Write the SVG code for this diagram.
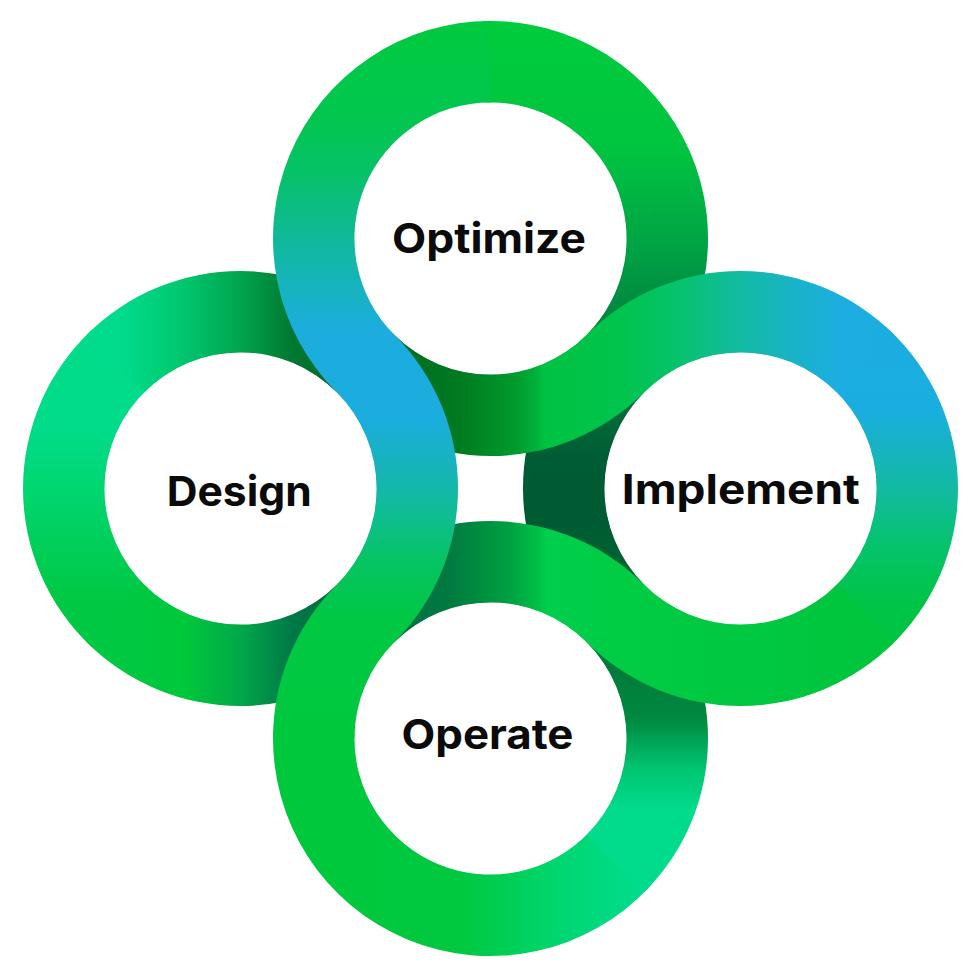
<svg xmlns="http://www.w3.org/2000/svg" width="980" height="978" viewBox="0 0 980 978">
<style>
.lbl{font-family:Inter,"Noto Sans","Liberation Sans",sans-serif;font-weight:700;font-size:41px;fill:#0a0a0a;text-anchor:middle}
.hole{fill:#ffffff}
</style>
<defs>
<linearGradient id="gTright" gradientUnits="userSpaceOnUse" x1="0" y1="21" x2="0" y2="392">
<stop offset="0" stop-color="#00cc3c"/><stop offset="0.348" stop-color="#00c440"/><stop offset="0.617" stop-color="#00a244"/><stop offset="0.833" stop-color="#007f3f"/><stop offset="1" stop-color="#00703a"/>
</linearGradient>
<linearGradient id="gDtop" gradientUnits="userSpaceOnUse" x1="120" y1="0" x2="330" y2="0">
<stop offset="0" stop-color="#00dc8c"/><stop offset="0.286" stop-color="#00c870"/><stop offset="0.571" stop-color="#00a54e"/><stop offset="0.81" stop-color="#007a32"/><stop offset="1" stop-color="#006a2a"/>
</linearGradient>
<linearGradient id="gDleft" gradientUnits="userSpaceOnUse" x1="0" y1="300" x2="0" y2="680">
<stop offset="0" stop-color="#00dc8c"/><stop offset="0.342" stop-color="#00dc88"/><stop offset="0.579" stop-color="#00d264"/><stop offset="0.79" stop-color="#00c843"/><stop offset="1" stop-color="#00c843"/>
</linearGradient>
<linearGradient id="gDbottom" gradientUnits="userSpaceOnUse" x1="100" y1="0" x2="340" y2="0">
<stop offset="0" stop-color="#00c843"/><stop offset="0.354" stop-color="#00c83c"/><stop offset="0.583" stop-color="#00a848"/><stop offset="0.792" stop-color="#007a48"/><stop offset="1" stop-color="#00663e"/>
</linearGradient>
<linearGradient id="gObottom" gradientUnits="userSpaceOnUse" x1="300" y1="0" x2="680" y2="0">
<stop offset="0" stop-color="#00c83c"/><stop offset="0.42" stop-color="#00c940"/><stop offset="0.684" stop-color="#00d670"/><stop offset="0.895" stop-color="#00dc8c"/><stop offset="1" stop-color="#00dc8c"/>
</linearGradient>
<linearGradient id="gOright" gradientUnits="userSpaceOnUse" x1="0" y1="580" x2="0" y2="900">
<stop offset="0" stop-color="#006a35"/><stop offset="0.25" stop-color="#007838"/><stop offset="0.4375" stop-color="#008a40"/><stop offset="0.594" stop-color="#00c672"/><stop offset="0.719" stop-color="#00dc8c"/><stop offset="1" stop-color="#00dc8c"/>
</linearGradient>
<linearGradient id="gIleft" gradientUnits="userSpaceOnUse" x1="0" y1="380" x2="0" y2="600">
<stop offset="0" stop-color="#00783c"/><stop offset="0.35" stop-color="#005c34"/><stop offset="0.65" stop-color="#005a32"/><stop offset="1" stop-color="#006e32"/>
</linearGradient>
<linearGradient id="gIright" gradientUnits="userSpaceOnUse" x1="0" y1="330" x2="0" y2="650">
<stop offset="0" stop-color="#1cade0"/><stop offset="0.25" stop-color="#1aaee0"/><stop offset="0.406" stop-color="#16b5b8"/><stop offset="0.531" stop-color="#10bc98"/><stop offset="0.672" stop-color="#06c36c"/><stop offset="0.844" stop-color="#00c448"/><stop offset="1" stop-color="#00c43f"/>
</linearGradient>
<linearGradient id="gH1" gradientUnits="userSpaceOnUse" x1="390" y1="0" x2="900" y2="0">
<stop offset="0" stop-color="#006a20"/><stop offset="0.137" stop-color="#007a20"/><stop offset="0.245" stop-color="#009a2c"/><stop offset="0.284" stop-color="#00b03a"/><stop offset="0.304" stop-color="#00c242"/><stop offset="0.451" stop-color="#00c44c"/><stop offset="0.569" stop-color="#06c26e"/><stop offset="0.686" stop-color="#12bba2"/><stop offset="0.804" stop-color="#19b2cc"/><stop offset="0.882" stop-color="#1caee0"/><stop offset="1" stop-color="#1cade0"/>
</linearGradient>
<linearGradient id="gH2" gradientUnits="userSpaceOnUse" x1="390" y1="0" x2="900" y2="0">
<stop offset="0" stop-color="#006e48"/><stop offset="0.118" stop-color="#007a40"/><stop offset="0.235" stop-color="#00a040"/><stop offset="0.284" stop-color="#00bd46"/><stop offset="0.31" stop-color="#00cf4c"/><stop offset="0.451" stop-color="#00cc44"/><stop offset="1" stop-color="#00c43c"/>
</linearGradient>
<linearGradient id="gV" gradientUnits="userSpaceOnUse" x1="0" y1="21" x2="0" y2="760">
<stop offset="0" stop-color="#00ca3e"/><stop offset="0.135" stop-color="#02c650"/><stop offset="0.202" stop-color="#06c266"/><stop offset="0.296" stop-color="#10b99a"/><stop offset="0.364" stop-color="#17b3c0"/><stop offset="0.42" stop-color="#1badde"/><stop offset="0.54" stop-color="#1badde"/><stop offset="0.607" stop-color="#16b4b8"/><stop offset="0.662" stop-color="#10bc98"/><stop offset="0.729" stop-color="#06c464"/><stop offset="0.81" stop-color="#00c843"/><stop offset="1" stop-color="#00c83c"/>
</linearGradient>
</defs>
<g id="rings">
<path id="implement-left" fill="url(#gIleft)" d="M 586.70 642.30 A 217.5 217.5 0 0 1 586.70 334.70 L 644.30 392.30 A 136.05 136.05 0 0 0 644.30 584.70 Z"/>
<path id="optimize-right" fill="url(#gTright)" d="M 482.91 21.13 A 217.5 217.5 0 0 1 644.30 392.30 L 586.70 334.70 A 136.05 136.05 0 0 0 485.75 102.53 Z"/>
<path id="design-left" fill="url(#gDleft)" d="M 92.17 647.57 A 217.5 217.5 0 0 1 92.17 329.43 L 147.71 389.00 A 136.05 136.05 0 0 0 147.71 588.00 Z"/>
<path id="design-top" fill="url(#gDtop)" d="M 86.70 334.70 A 217.5 217.5 0 0 1 394.30 334.70 L 336.70 392.30 A 136.05 136.05 0 0 0 144.30 392.30 Z"/>
<path id="design-bottom" fill="url(#gDbottom)" d="M 394.30 642.30 A 217.5 217.5 0 0 1 86.70 642.30 L 144.30 584.70 A 136.05 136.05 0 0 0 336.70 584.70 Z"/>
<path id="operate-bottom" fill="url(#gObottom)" d="M 649.57 886.84 A 217.5 217.5 0 0 1 273.13 730.91 L 354.53 733.75 A 136.05 136.05 0 0 0 590.00 831.29 Z"/>
<path id="operate-right" fill="url(#gOright)" d="M 644.30 584.70 A 217.5 217.5 0 0 1 644.30 892.30 L 586.70 834.70 A 136.05 136.05 0 0 0 586.70 642.30 Z"/>
<path id="implement-right" fill="url(#gIright)" d="M 888.84 329.43 A 217.5 217.5 0 0 1 888.84 647.57 L 833.29 588.00 A 136.05 136.05 0 0 0 833.29 389.00 Z"/>
<path id="band-top" fill="url(#gH1)" d="M 394.30 334.70 A 136.05 136.05 0 0 0 586.70 334.70 A 217.5 217.5 0 0 1 894.30 334.70 L 836.70 392.30 A 136.05 136.05 0 0 0 644.30 392.30 A 217.5 217.5 0 0 1 336.70 392.30 Z"/>
<path id="band-bottom" fill="url(#gH2)" d="M 394.30 642.30 A 136.05 136.05 0 0 1 586.70 642.30 A 217.5 217.5 0 0 0 894.30 642.30 L 836.70 584.70 A 136.05 136.05 0 0 1 644.30 584.70 A 217.5 217.5 0 0 0 336.70 584.70 Z"/>
<path id="band-left" fill="url(#gV)" d="M 490.50 21.00 A 217.5 217.5 0 0 0 336.70 392.30 A 136.05 136.05 0 0 1 336.70 584.70 A 217.5 217.5 0 0 0 273.00 738.50 L 354.45 738.50 A 136.05 136.05 0 0 1 394.30 642.30 A 217.5 217.5 0 0 0 394.30 334.70 A 136.05 136.05 0 0 1 490.50 102.45 Z"/>
</g>
<g id="node-optimize">
<circle class="hole" cx="490.5" cy="238.5" r="135.5"/>
<text class="lbl" x="489" y="253" textLength="194" lengthAdjust="spacingAndGlyphs">Optimize</text>
</g>
<g id="node-design">
<circle class="hole" cx="240.5" cy="488.5" r="135.5"/>
<text class="lbl" x="239.2" y="506" textLength="145" lengthAdjust="spacingAndGlyphs">Design</text>
</g>
<g id="node-implement">
<circle class="hole" cx="740.5" cy="488.5" r="135.5"/>
<text class="lbl" x="740.8" y="504" textLength="238" lengthAdjust="spacingAndGlyphs">Implement</text>
</g>
<g id="node-operate">
<circle class="hole" cx="490.5" cy="738.5" r="135.5"/>
<text class="lbl" x="487.5" y="749" textLength="172" lengthAdjust="spacingAndGlyphs">Operate</text>
</g>
</svg>
